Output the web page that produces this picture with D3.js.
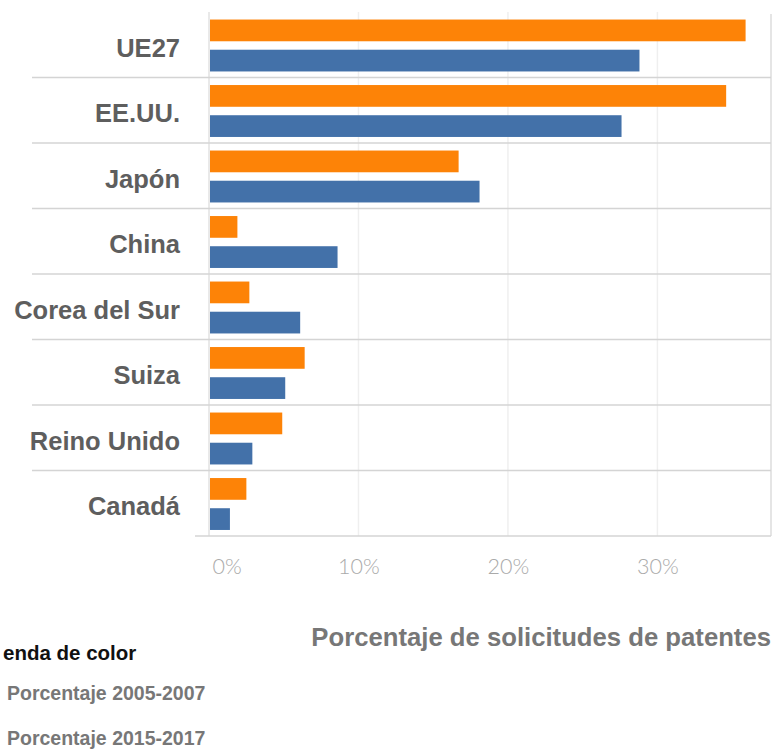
<!DOCTYPE html>
<html>
<head>
<meta charset="utf-8">
<script src="https://cdn.jsdelivr.net/npm/d3@7"></script>
<style>
  html, body { margin: 0; padding: 0; background: #fff; overflow: hidden; }
  svg { display: block; }
</style>
</head>
<body>
<svg id="chart" width="773" height="749"></svg>
<script>
// Share of patent applications by region, two periods
const categories = ["UE27", "EE.UU.", "Japón", "China", "Corea del Sur", "Suiza", "Reino Unido", "Canadá"];
const periods = ["Porcentaje 2005-2007", "Porcentaje 2015-2017"];
const values2005 = [35.9, 34.6, 16.7, 1.9, 2.7, 6.4, 4.9, 2.5];
const values2015 = [28.8, 27.6, 18.1, 8.6, 6.1, 5.1, 2.9, 1.4];
const tickValues = [0, 10, 20, 30];
const colors = ["#fd8307", "#4371a9"];

const rows = categories.map((c, i) => ({ cat: c, vals: [values2005[i], values2015[i]] }));

const svg = d3.select("#chart");
const plotLeft = 209, plotRight = 771, plotTop = 12, plotBottom = 536;

const x = d3.scaleLinear().domain([0, 37.6]).range([plotLeft, plotRight]);
const y = d3.scaleBand().domain(categories).range([plotTop, plotBottom]).paddingInner(0).paddingOuter(0);
const ySub = d3.scaleBand().domain(periods).range([1.5, y.bandwidth()]).paddingInner(0.28).paddingOuter(0.2);
const color = d3.scaleOrdinal().domain(periods).range(colors);

// vertical gridlines
svg.append("g").selectAll("line").data(tickValues.slice(1)).join("line")
  .attr("x1", d => x(d)).attr("x2", d => x(d))
  .attr("y1", plotTop).attr("y2", plotBottom)
  .attr("stroke", "#efefef").attr("stroke-width", 1.5);

// left axis line and right border
svg.append("line").attr("x1", plotLeft).attr("x2", plotLeft).attr("y1", plotTop).attr("y2", plotBottom)
  .attr("stroke", "#e2e2e2").attr("stroke-width", 1.5);
svg.append("line").attr("x1", plotRight).attr("x2", plotRight).attr("y1", plotTop + 2).attr("y2", plotBottom)
  .attr("stroke", "#dcdcdc").attr("stroke-width", 1.5);

// row separators
svg.append("g").selectAll("line").data(categories.slice(1)).join("line")
  .attr("x1", 32).attr("x2", plotRight)
  .attr("y1", d => y(d)).attr("y2", d => y(d))
  .attr("stroke", "#d4d4d4").attr("stroke-width", 1.5);
svg.append("line").attr("x1", 195).attr("x2", plotRight).attr("y1", plotBottom).attr("y2", plotBottom)
  .attr("stroke", "#d4d4d4").attr("stroke-width", 1.5);

// bars
const groups = svg.append("g").selectAll("g").data(rows).join("g")
  .attr("transform", d => `translate(0,${y(d.cat)})`);
groups.selectAll("rect").data(d => d.vals.map((v, i) => ({ key: periods[i], v }))).join("rect")
  .attr("x", x(0) + 1)
  .attr("y", d => ySub(d.key))
  .attr("width", d => x(d.v) - x(0) - 1)
  .attr("height", ySub.bandwidth())
  .attr("fill", d => color(d.key));

// category labels
svg.append("g").selectAll("text").data(categories).join("text")
  .attr("x", 180)
  .attr("y", d => y(d) + y.bandwidth() / 2 + 3)
  .attr("text-anchor", "end")
  .attr("dominant-baseline", "central")
  .attr("font-family", "Liberation Sans, Arial, sans-serif")
  .attr("font-weight", "bold")
  .attr("font-size", 25.5)
  .attr("fill", "#5e5e5e")
  .text(d => d);

// x axis tick labels
const xAxis = d3.axisBottom(x).tickValues(tickValues).tickSize(0).tickPadding(0)
  .tickFormat(d => d + "%");
const ax = svg.append("g").attr("transform", `translate(0,${566})`).call(xAxis);
ax.select(".domain").remove();
ax.selectAll("text")
  .attr("dy", null)
  .attr("dominant-baseline", "central")
  .attr("font-family", "Lato, sans-serif")
  .attr("font-weight", 300)
  .attr("font-size", 21.5)
  .attr("fill", "#aaaaaa")
  .attr("text-anchor", d => d === 0 ? "start" : "middle")
  .attr("dx", d => d === 0 ? 3 : 0);

// axis title
svg.append("text")
  .attr("x", 771).attr("y", 637)
  .attr("text-anchor", "end")
  .attr("dominant-baseline", "central")
  .attr("font-family", "Liberation Sans, Arial, sans-serif")
  .attr("font-weight", "bold")
  .attr("font-size", 25.7)
  .attr("fill", "#777")
  .text("Porcentaje de solicitudes de patentes");

// legend
const legend = svg.append("g");
legend.append("text")
  .attr("x", 3).attr("y", 652)
  .attr("dominant-baseline", "central")
  .attr("font-family", "Liberation Sans, Arial, sans-serif")
  .attr("font-weight", "bold")
  .attr("font-size", 20.5)
  .attr("fill", "#111")
  .text("enda de color");
const items = legend.selectAll("g.item").data(periods).join("g").attr("class", "item")
  .attr("transform", (d, i) => `translate(0,${693 + i * 45})`);
items.append("rect").attr("x", -22).attr("y", -9).attr("width", 18).attr("height", 18)
  .attr("fill", d => color(d));
items.append("text")
  .attr("x", 7).attr("y", 0)
  .attr("dominant-baseline", "central")
  .attr("font-family", "Liberation Sans, Arial, sans-serif")
  .attr("font-weight", "bold")
  .attr("font-size", 19.5)
  .attr("fill", "#777")
  .text(d => d);
</script>
</body>
</html>
